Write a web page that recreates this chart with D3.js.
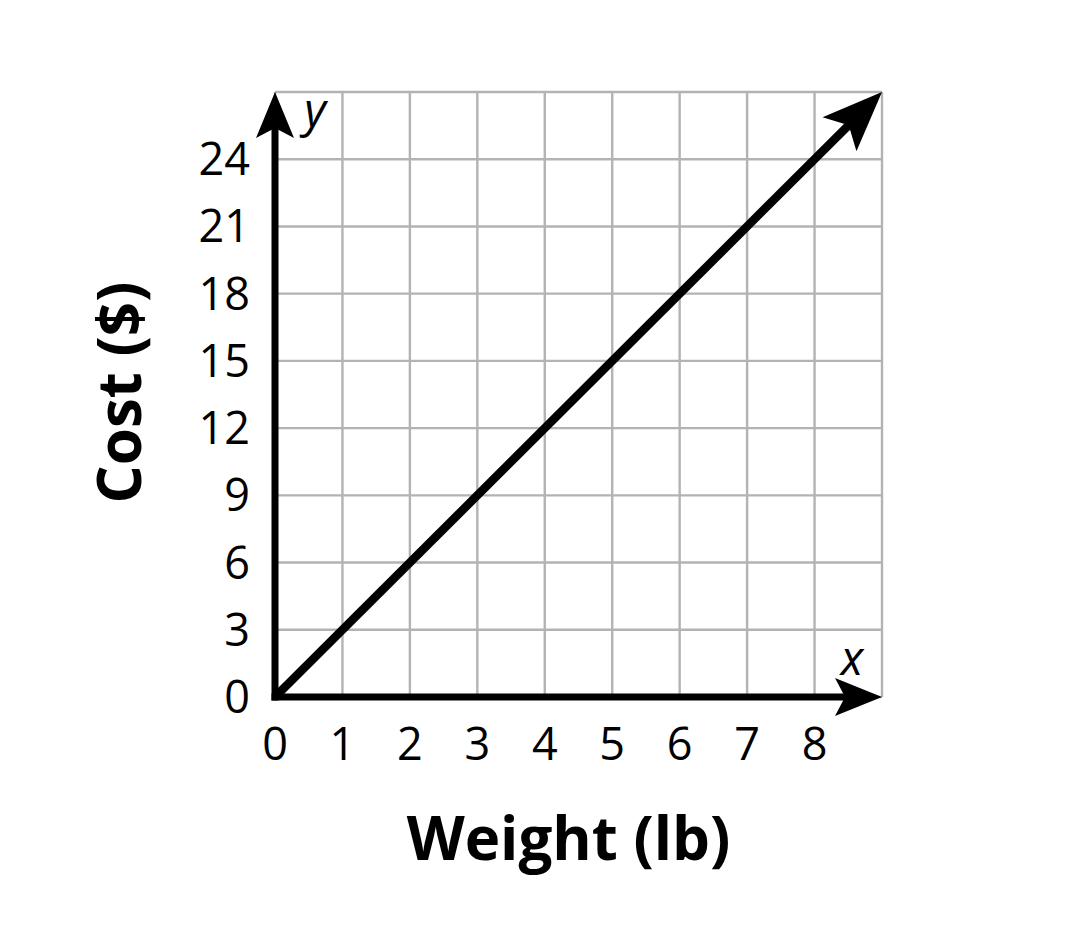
<!DOCTYPE html>
<html>
<head>
<meta charset="utf-8">
<script src="https://cdn.jsdelivr.net/npm/d3@7"></script>
<style>
  body { margin: 0; background: #fff; }
  text { font-family: "Open Sans", "Noto Sans", sans-serif; fill: #000; }
</style>
</head>
<body>
<svg id="chart" width="1068" height="935"></svg>
<script>
"use strict";

// chart values
const xTicks = [0, 1, 2, 3, 4, 5, 6, 7, 8];
const yTicks = [0, 3, 6, 9, 12, 15, 18, 21, 24];
const xGrid = [0, 1, 2, 3, 4, 5, 6, 7, 8, 9];
const yGrid = [0, 3, 6, 9, 12, 15, 18, 21, 24, 27];
const lineWeight = [0, 9];
const lineCost = [0, 27];

const margin = {top: 92, right: 186, bottom: 238, left: 275};
const width = 1068 - margin.left - margin.right;
const height = 935 - margin.top - margin.bottom;

const svg = d3.select("#chart");
const g = svg.append("g").attr("transform", `translate(${margin.left},${margin.top})`);

const x = d3.scaleLinear().domain([0, 9]).range([0, width]);
const y = d3.scaleLinear().domain([0, 27]).range([height, 0]);

// grid
g.append("g").selectAll("line.v")
    .data(xGrid)
    .enter().append("line")
        .attr("x1", d => x(d)).attr("x2", d => x(d))
        .attr("y1", y(0)).attr("y2", y(27))
        .style("stroke", "#b3b3b3").style("stroke-width", 2.4);

g.append("g").selectAll("line.h")
    .data(yGrid)
    .enter().append("line")
        .attr("x1", x(0)).attr("x2", x(9))
        .attr("y1", d => y(d)).attr("y2", d => y(d))
        .style("stroke", "#b3b3b3").style("stroke-width", 2.4);

// notched arrow head with its tip at (tx, ty), pointing along angle a
function arrowHead(tx, ty, a, len, half, notch) {
    const c = Math.cos(a), s = Math.sin(a);
    const pt = (u, v) => [tx - u * c - v * s, ty - u * s + v * c];
    const p = [pt(0, 0), pt(len, -half), pt(notch, 0), pt(len, half)];
    g.append("path")
        .attr("d", "M" + p.map(q => q.join(",")).join("L") + "Z")
        .style("fill", "#000");
}

// axes
g.append("line")
    .attr("x1", x(0) - 3.5).attr("x2", x(9) - 30)
    .attr("y1", y(0)).attr("y2", y(0))
    .style("stroke", "#000").style("stroke-width", 7);
arrowHead(x(9), y(0), 0, 47, 19, 37);

g.append("line")
    .attr("x1", x(0)).attr("x2", x(0))
    .attr("y1", y(0) + 3.5).attr("y2", y(27) + 30)
    .style("stroke", "#000").style("stroke-width", 7);
arrowHead(x(0), y(27), -Math.PI / 2, 46, 19, 36);

// line through the data, trimmed so the arrow head carries the tip
const linePath = g.append("path")
    .datum(lineWeight.map((w, i) => [w, lineCost[i]]))
    .attr("d", d3.line().x(d => x(d[0])).y(d => y(d[1])))
    .style("fill", "none")
    .style("stroke", "#000")
    .style("stroke-width", 8.5);
const total = linePath.node().getTotalLength();
linePath.style("stroke-dasharray", `${total - 40},${total}`);
const tip = [x(lineWeight[1]), y(lineCost[1])];
const ang = Math.atan2(tip[1] - y(lineCost[0]), tip[0] - x(lineWeight[0]));
arrowHead(tip[0], tip[1], ang, 60, 24, 47);

// tick labels
g.append("g").selectAll("text")
    .data(xTicks)
    .enter().append("text")
        .attr("x", d => x(d))
        .attr("y", y(0) + 63)
        .attr("text-anchor", "middle")
        .style("font-size", "45px")
        .text(d => d);

g.append("g").selectAll("text")
    .data(yTicks)
    .enter().append("text")
        .attr("x", x(0) - 25)
        .attr("y", d => y(d) + 16)
        .attr("text-anchor", "end")
        .style("font-size", "45px")
        .text(d => d);

// axis letters
g.append("text")
    .attr("x", x(9) - 30).attr("y", y(0) - 22)
    .attr("text-anchor", "middle")
    .style("font-size", "47px").style("font-style", "italic")
    .text("x");
g.append("text")
    .attr("x", x(0) + 40).attr("y", y(27) + 35)
    .attr("text-anchor", "middle")
    .style("font-size", "47px").style("font-style", "italic")
    .text("y");

// axis titles
g.append("text")
    .attr("x", width / 2 - 10)
    .attr("y", height + 163)
    .attr("text-anchor", "middle")
    .style("font-size", "60px").style("font-weight", "bold")
    .text("Weight (lb)");

g.append("text")
    .attr("transform", `translate(${-134},${height / 2 - 2}) rotate(-90)`)
    .attr("text-anchor", "middle")
    .style("font-size", "60px").style("font-weight", "bold")
    .text("Cost ($)");
</script>
</body>
</html>
